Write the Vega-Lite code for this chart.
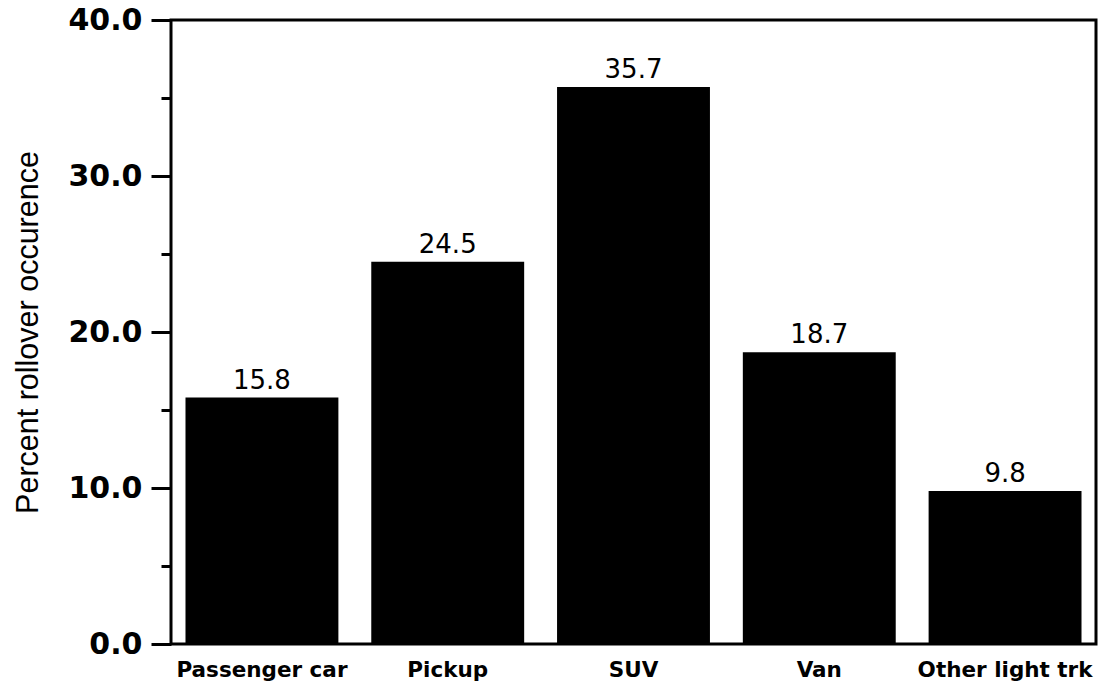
{
  "$schema": "https://vega.github.io/schema/vega-lite/v6.json",
  "width": 925,
  "height": 624,
  "autosize": {"type": "none"},
  "padding": {"left": 171, "top": 20, "right": 8, "bottom": 50},
  "background": "white",
  "view": {"stroke": "black", "strokeWidth": 3},
  "data": {
    "values": [
      {"type": "Passenger car", "pct": 15.8},
      {"type": "Pickup", "pct": 24.5},
      {"type": "SUV", "pct": 35.7},
      {"type": "Van", "pct": 18.7},
      {"type": "Other light trk", "pct": 9.8}
    ]
  },
  "encoding": {
    "x": {
      "field": "type",
      "type": "nominal",
      "sort": null,
      "scale": {"paddingInner": 0.177, "paddingOuter": 0.078},
      "axis": {
        "title": null,
        "labelAngle": 0,
        "labelFont": "DejaVu Sans",
        "labelFontWeight": "bold",
        "labelFontSize": 21.5,
        "labelColor": "black",
        "labelPadding": 15,
        "ticks": false,
        "domain": false
      }
    },
    "y": {
      "field": "pct",
      "type": "quantitative",
      "scale": {"domain": [0, 40], "nice": false},
      "axis": {
        "title": "Percent rollover occurence",
        "titleFont": "Liberation Sans",
        "titleFontSize": 30.5,
        "titleFontWeight": "normal",
        "titleColor": "black",
        "titlePadding": 24,
        "values": [0, 5, 10, 15, 20, 25, 30, 35, 40],
        "format": ".1f",
        "labelExpr": "datum.value % 10 === 0 ? datum.label : ''",
        "labelFont": "DejaVu Sans",
        "labelFontWeight": "bold",
        "labelFontSize": 30,
        "labelColor": "black",
        "labelPadding": 9,
        "tickSize": {"condition": {"test": "datum.value % 10 === 0", "value": 20}, "value": 10},
        "tickWidth": 3,
        "tickColor": "black",
        "domain": false,
        "grid": false
      }
    }
  },
  "layer": [
    {"mark": {"type": "bar", "color": "black"}},
    {
      "mark": {"type": "text", "font": "DejaVu Sans", "fontSize": 26, "dy": -9, "baseline": "alphabetic", "color": "black"},
      "encoding": {"text": {"field": "pct", "type": "quantitative", "format": ".1f"}}
    }
  ]
}
